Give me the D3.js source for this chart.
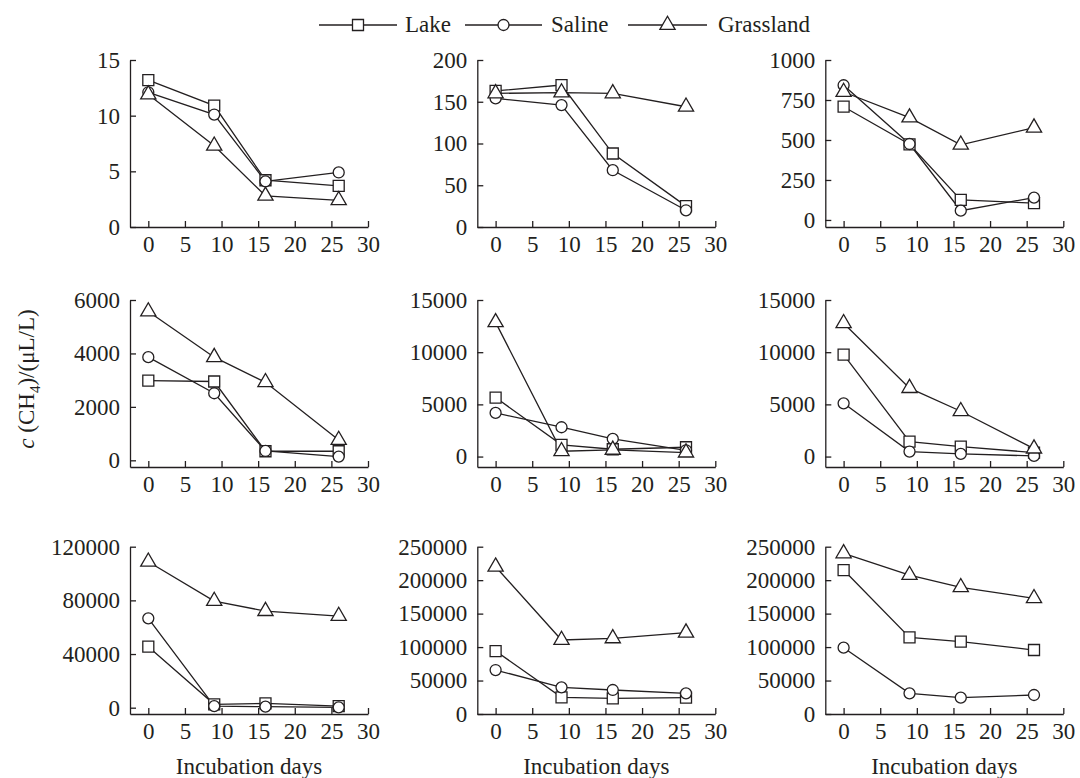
<!DOCTYPE html>
<html lang="en">
<head>
<meta charset="UTF-8">
<script src="https://cdn.jsdelivr.net/npm/d3@7"></script>
<style>
body { margin: 0; background: #fff; }
svg { font-family: "Liberation Serif", "Times New Roman", serif; }
.axis path, .axis line { stroke: #231f20; stroke-width: 1.3px; fill: none; }
.axis text { font-size: 23px; fill: #231f20; }
.series { fill: none; stroke: #231f20; stroke-width: 1.3px; }
.marker { fill: #fff; stroke: #231f20; stroke-width: 1.3px; }
</style>
</head>
<body>
<svg id="chart" width="1080" height="778"></svg>
<script>
// sampling days, shared by all panels
const days = [0, 9, 16, 26];
const seriesNames = ["Lake", "Saline", "Grassland"];
const xTicks = [0, 5, 10, 15, 20, 25, 30];

// values per panel (row by row), in the order Lake, Saline, Grassland
const p1 = [[13.2, 10.9, 4.2, 3.7], [12.1, 10.1, 4.1, 4.9], [11.9, 7.3, 2.8, 2.4]];
const p2 = [[163, 170, 88, 25], [154, 146, 68, 20], [160, 161, 160, 144]];
const p3 = [[708, 473, 125, 105], [842, 475, 58, 140], [800, 640, 470, 577]];
const p4 = [[2980, 2950, 340, 340], [3860, 2510, 350, 140], [5570, 3860, 2920, 760]];
const p5 = [[5650, 1120, 700, 890], [4180, 2810, 1690, 600], [12860, 510, 640, 380]];
const p6 = [[9770, 1440, 960, 380], [5100, 480, 255, 60], [12770, 6560, 4340, 760]];
const p7 = [[45500, 2500, 3200, 1200], [66600, 1200, 750, 250], [108800, 79500, 72000, 68300]];
const p8 = [[94100, 24900, 23400, 24400], [65700, 39800, 35900, 30900], [220100, 110600, 113000, 121500]];
const p9 = [[215100, 114500, 108100, 95600], [99100, 30900, 24400, 28400], [240000, 207700, 189300, 172900]];

const yTicks = [
  [0, 5, 10, 15], [0, 50, 100, 150, 200], [0, 250, 500, 750, 1000],
  [0, 2000, 4000, 6000], [0, 5000, 10000, 15000], [0, 5000, 10000, 15000],
  [0, 40000, 80000, 120000], [0, 50000, 100000, 150000, 200000, 250000], [0, 50000, 100000, 150000, 200000, 250000]
];
const yMin = [0, 0, -44, -250, -1000, -1000, -4700, 0, 0];
const panels = [p1, p2, p3, p4, p5, p6, p7, p8, p9];

const colLeft = [130, 477.3, 825.3];
const rowTop = [60, 300, 546.7];
const rowBottom = [227, 467, 714];
const plotW = 238;
const serif = '"Liberation Serif", "Times New Roman", serif';

const svg = d3.select("#chart");

const symbols = [d3.symbolSquare, d3.symbolCircle, d3.symbolTriangle];
const symSize = [121, 95, 100];
const marker = i => d3.symbol().type(symbols[i]).size(symSize[i])();

panels.forEach((data, k) => {
    const row = Math.floor(k / 3), col = k % 3;
    const left = colLeft[col];
    const yt = yTicks[k];

    const x = d3.scaleLinear().domain([-2.5, 30]).range([left, left + plotW]);
    const y = d3.scaleLinear().domain([yMin[k], yt[yt.length - 1]]).range([rowBottom[row], rowTop[row]]);

    svg.append("g")
        .attr("class", "axis")
        .attr("transform", `translate(${left},0)`)
        .call(d3.axisLeft(y).tickValues(yt).tickSizeInner(-6).tickSizeOuter(0).tickPadding(10).tickFormat(d3.format("d")))
        .attr("font-family", serif)
        .attr("font-size", 23);

    svg.append("g")
        .attr("class", "axis")
        .attr("transform", `translate(0,${rowBottom[row]})`)
        .call(d3.axisBottom(x).tickValues(xTicks).tickSizeInner(-6).tickSizeOuter(0).tickPadding(9))
        .attr("font-family", serif)
        .attr("font-size", 23);

    const line = d3.line().x((d, i) => x(days[i])).y(d => y(d));
    data.forEach(s => {
        svg.append("path").attr("class", "series").attr("d", line(s));
    });
    data.forEach((s, si) => {
        svg.selectAll(null)
            .data(s)
            .enter().append("path")
            .attr("class", "marker")
            .attr("d", marker(si))
            .attr("transform", (d, i) => `translate(${x(days[i])},${y(d)})`);
    });

    if (row === 2) {
        svg.append("text")
            .attr("x", left + plotW / 2)
            .attr("y", 774)
            .attr("text-anchor", "middle")
            .style("font-size", "23px")
            .attr("fill", "#231f20")
            .text("Incubation days");
    }
});

// y label
const yl = svg.append("text")
    .attr("transform", "translate(34,379) rotate(-90)")
    .attr("text-anchor", "middle")
    .style("font-size", "23px")
    .attr("fill", "#231f20");
yl.append("tspan").style("font-style", "italic").text("c");
yl.append("tspan").text(" (CH");
yl.append("tspan").attr("dy", 6).style("font-size", "15px").text("4");
yl.append("tspan").attr("dy", -6).text(")/(μL/L)");

// legend
const legendX = [[319, 397, 405], [465, 542, 551], [628, 707, 718]];
const legend = svg.append("g");
seriesNames.forEach((name, i) => {
    const [x1, x2, tx] = legendX[i];
    legend.append("line").attr("x1", x1).attr("x2", x2).attr("y1", 25).attr("y2", 25)
        .attr("stroke", "#231f20").attr("stroke-width", 1.3);
    legend.append("path").attr("class", "marker").attr("d", marker(i))
        .attr("transform", `translate(${(x1 + x2) / 2},25)`);
    legend.append("text").attr("x", tx).attr("y", 32).style("font-size", "23px")
        .attr("fill", "#231f20").text(name);
});
</script>
</body>
</html>
